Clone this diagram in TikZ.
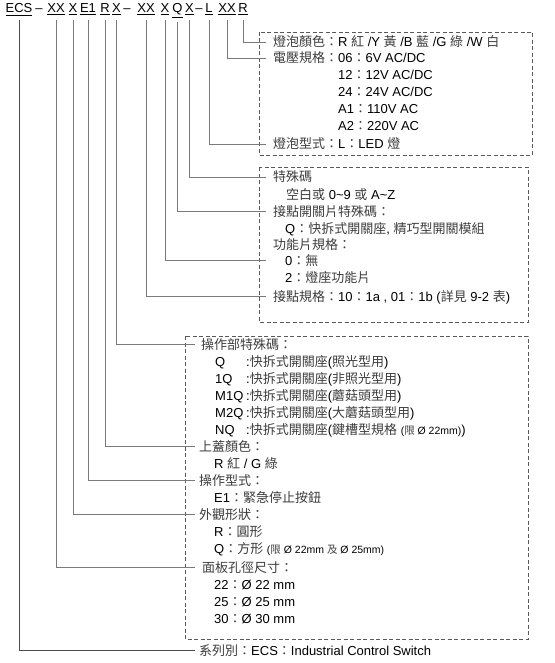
\documentclass[tikz,border=0pt]{standalone}
\usepackage{fontspec}
\setmainfont{Liberation Sans}
\newfontfamily\cjkfont{Noto Sans CJK TC}
\usepackage{xcolor}
\usetikzlibrary{positioning}

\definecolor{leadgray}{HTML}{7A7A7A}
\definecolor{zhgray}{HTML}{3C3C3C}
\newcommand{\zh}[1]{{\cjkfont\color{zhgray}#1}}
\newcommand{\sm}[1]{{\fontsize{10.5}{12}\selectfont #1}}
\newcommand{\ucode}[1]{\leavevmode\vtop{\hbox{#1}\kern1.4pt\hrule height0.9pt}}
\newcommand{\cd}[1]{\makebox[31pt][l]{#1}}

\begin{document}
\begin{tikzpicture}[
      x=1pt, y=-1pt,
      code/.style={anchor=base, inner xsep=0pt, inner ysep=4.3pt,
                   font=\fontsize{13}{15}\selectfont},
      row/.style={anchor=base west, inner sep=0pt,
                  font=\fontsize{13}{15}\selectfont},
      lead/.style={draw=leadgray, line width=0.85pt},
      dashbox/.style={draw=black!65, line width=0.7pt, dash pattern=on 4pt off 2.5pt}
    ]
    \useasboundingbox (0,0) rectangle (554,663);

    % order code
    \node[code] (ecs)  at (19,13)  {\ucode{ECS}};
    \node[code] (d1)   at (39,13)  {--};
    \node[code] (csz)  at (56,13)  {\ucode{XX}};
    \node[code] (cshp) at (73,13)  {\ucode{X}};
    \node[code] (cop)  at (88,13)  {\ucode{E1}};
    \node[code] (ccap) at (105,13) {\ucode{R}};
    \node[code] (cspc) at (116.5,13) {\ucode{X}};
    \node[code] (d2)   at (127,13) {--};
    \node[code] (ccon) at (146,13) {\ucode{XX}};
    \node[code] (cfn)  at (165,13) {\ucode{X}};
    \node[code] (cq)   at (177.5,13) {\ucode{Q}};
    \node[code] (cx)   at (189.5,13) {\ucode{X}};
    \node[code] (d3)   at (199,13) {--};
    \node[code] (cl)   at (209,13) {\ucode{L}};
    \node[code] (cv)   at (227,13) {\ucode{XX}};
    \node[code] (cc)   at (243,13) {\ucode{R}};

    % dashed boxes
    \draw[dashbox] (259,32) rectangle (532,155);
    \draw[dashbox] (259,167) rectangle (528,322);
    \draw[dashbox] (185,336) rectangle (528,639);
    \coordinate (e1) at (266,0);
    \coordinate (e3) at (195,0);

    % lamp
    \node[row] (bcol)  at (273,47)  {\zh{燈泡顏色：}R \zh{紅} /Y \zh{黃} /B \zh{藍} /G \zh{綠} /W \zh{白}};
    \node[row] (volt)  at (273,63)  {\zh{電壓規格：}};
    \node[row] (v06)   at (338,63)  {06\zh{：}6V AC/DC};
    \node[row] (v12)   at (338,80)  {12\zh{：}12V AC/DC};
    \node[row] (v24)   at (338,97)  {24\zh{：}24V AC/DC};
    \node[row] (va1)   at (338,113.5) {A1\zh{：}110V AC};
    \node[row] (va2)   at (338,130.5) {A2\zh{：}220V AC};
    \node[row] (btype) at (273,149) {\zh{燈泡型式：}L\zh{：}LED \zh{燈}};

    % contact block
    \node[row] (spec)  at (273,182) {\zh{特殊碼}};
    \node[row] (spc2)  at (286,199) {\zh{空白或} 0\textasciitilde 9 \zh{或} A\textasciitilde Z};
    \node[row] (swq)   at (273,216) {\zh{接點開關片特殊碼：}};
    \node[row] (swq2)  at (285,233) {Q\zh{：快拆式開關座}, \zh{精巧型開關模組}};
    \node[row] (fn)    at (273,249.5) {\zh{功能片規格：}};
    \node[row] (fn0)   at (285,265.5) {0\zh{：無}};
    \node[row] (fn2)   at (285,282.5) {2\zh{：燈座功能片}};
    \node[row] (cont)  at (273,301) {\zh{接點規格：}10\zh{：}1a , 01\zh{：}1b (\zh{詳見} 9-2 \zh{表})};

    % operator
    \node[row] (opq)   at (201,349) {\zh{操作部特殊碼：}};
    \node[row] (opq1)  at (215,366) {\cd{Q}:\zh{快拆式開關座}(\zh{照光型用})};
    \node[row] (opq2)  at (215,383) {\cd{1Q}:\zh{快拆式開關座}(\zh{非照光型用})};
    \node[row] (opq3)  at (215,400) {\cd{M1Q}:\zh{快拆式開關座}(\zh{蘑菇頭型用})};
    \node[row] (opq4)  at (215,417) {\cd{M2Q}:\zh{快拆式開關座}(\zh{大蘑菇頭型用})};
    \node[row] (opq5)  at (215,434) {\cd{NQ}:\zh{快拆式開關座}(\zh{鍵槽型規格} \sm{(\zh{限} Ø 22mm)})};
    \node[row] (capc)  at (199,451) {\zh{上蓋顏色：}};
    \node[row] (capc2) at (214,468) {R \zh{紅} / G \zh{綠}};
    \node[row] (optype) at (199,485) {\zh{操作型式：}};
    \node[row] (opt2)  at (214,502) {E1\zh{：緊急停止按鈕}};
    \node[row] (shape) at (199,519) {\zh{外觀形狀：}};
    \node[row] (shp1)  at (214,536) {R\zh{：圓形}};
    \node[row] (shp2)  at (214,553) {Q\zh{：方形} \sm{(\zh{限} Ø 22mm \zh{及} Ø 25mm)}};
    \node[row] (panel) at (202,572) {\zh{面板孔徑尺寸：}};
    \node[row] (pn22)  at (214,589) {22\zh{：}Ø 22 mm};
    \node[row] (pn25)  at (214,606) {25\zh{：}Ø 25 mm};
    \node[row] (pn30)  at (214,623) {30\zh{：}Ø 30 mm};
    \node[row] (series) at (199,655) {\zh{系列別：}ECS\zh{：}Industrial Control Switch};

    % leaders
    \draw[lead] (cc.south)   |- (bcol.west -| e1);
    \draw[lead] (cv.south)   |- (volt.west -| e1);
    \draw[lead] (cl.south)   |- (btype.west -| e1);
    \draw[lead] (cx.south)   |- (spec.west -| e1);
    \draw[lead] (cq.south)   |- (swq.west -| e1);
    \draw[lead] (cfn.south)  |- (fn0.west -| e1);
    \draw[lead] (ccon.south) |- (cont.west -| e1);
    \draw[lead] (cspc.south) |- (opq.west -| e3);
    \draw[lead] (ccap.south) |- (capc.west -| e3);
    \draw[lead] (cop.south)  |- (optype.west -| e3);
    \draw[lead] (cshp.south) |- (shape.west -| e3);
    \draw[lead] (csz.south)  |- (panel.west -| e3);
    \draw[lead, draw=black!70] (ecs.south) |- (series.west -| e3);
  \end{tikzpicture}
\end{document}
